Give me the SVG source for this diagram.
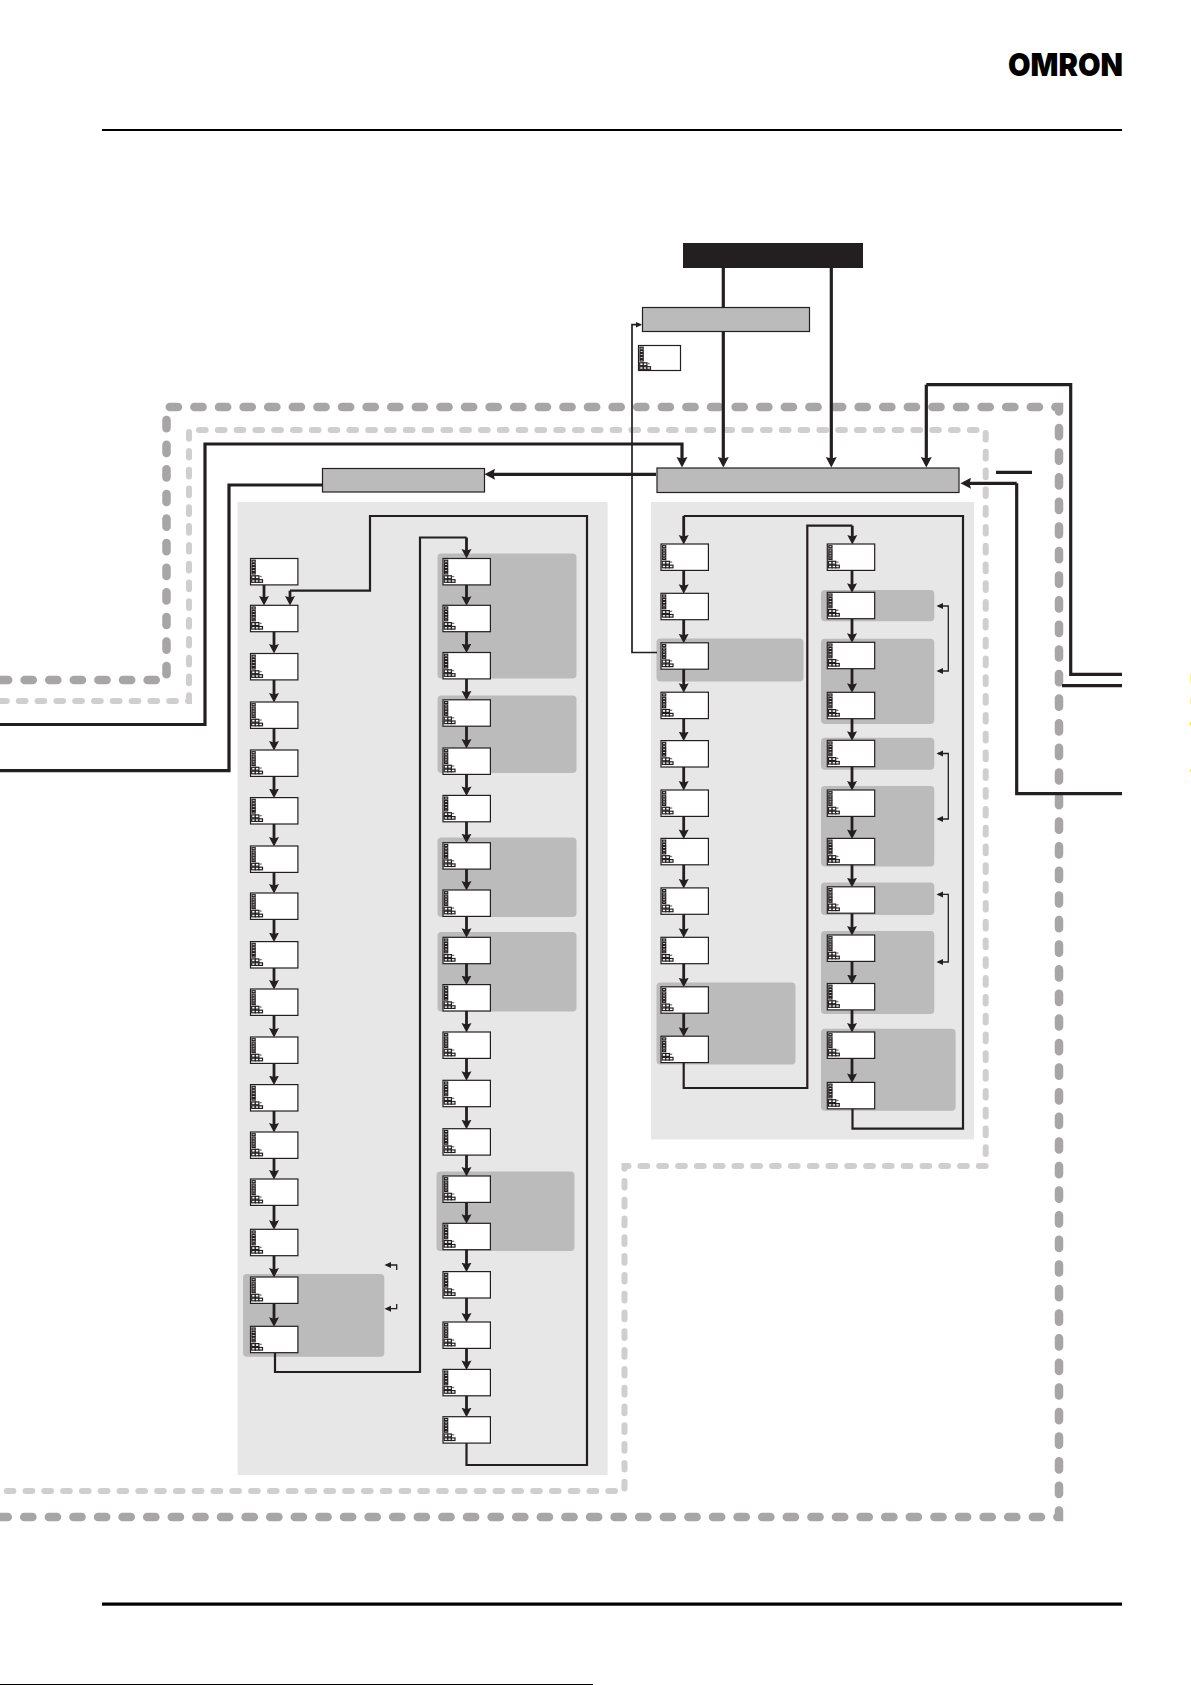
<svg xmlns="http://www.w3.org/2000/svg" width="1191" height="1685" viewBox="0 0 1191 1685">
<style>
.bg{fill:#fff}
.panel{fill:#e7e7e7}
.sub{fill:#bcbbbb}
.box{fill:#fff;stroke:#231f20;stroke-width:1.2}
.bar{fill:#bcbbbb;stroke:#231f20;stroke-width:1.2}
.ic{fill:#fff;stroke:#231f20;stroke-width:1.2}
.o{fill:none;stroke:#a7a5a6;stroke-width:8.5;stroke-linecap:round;stroke-dasharray:8.2 16.4}
.i{fill:none;stroke:#d0cecf;stroke-width:6;stroke-linecap:round;stroke-dasharray:6.7 12.1}
.c{fill:none;stroke:#231f20;stroke-width:2.8;marker-end:url(#a)}
.l{fill:none;stroke:#231f20;stroke-width:2.2}
.t{fill:none;stroke:#231f20;stroke-width:1.3;marker-end:url(#s)}
.f{fill:none;stroke:#231f20;stroke-width:1.7;marker-end:url(#s)}
.m{fill:none;stroke:#231f20;stroke-width:3.2;marker-end:url(#b)}
.k{fill:none;stroke:#231f20;stroke-width:3.2}
</style>
<defs>
<marker id="a" markerUnits="userSpaceOnUse" markerWidth="13" markerHeight="13" refX="6" refY="5.5" orient="auto"><path d="M0 0.5L9.5 5.5L0 10.5L1.5 5.5Z" fill="#231f20"/></marker>
<marker id="b" markerUnits="userSpaceOnUse" markerWidth="13" markerHeight="13" refX="7" refY="6" orient="auto"><path d="M0 .5L10.5 6L0 11.5L1.5 6Z" fill="#231f20"/></marker>
<marker id="s" markerUnits="userSpaceOnUse" markerWidth="9" markerHeight="9" refX="5" refY="3.5" orient="auto"><path d="M0 .5L6.5 3.5L0 6.5Z" fill="#231f20"/></marker>
<g id="icon">
<rect class="ic" x="1.5" y="1.7" width="3.2" height="2"/><rect class="ic" x="1.5" y="5.1" width="3.2" height="2"/><rect class="ic" x="1.5" y="8.1" width="3.2" height="2"/><rect class="ic" x="1.5" y="10.9" width="3.2" height="2"/><rect class="ic" x="1.5" y="13.9" width="3.2" height="1.6"/>
<rect class="ic" x="1.2" y="17.3" width="3.6" height="2.9"/><rect class="ic" x="4.8" y="17.3" width="3.6" height="2.9"/><rect x="8.8" y="17.4" width="2.4" height="1.3" fill="#777"/>
<rect class="ic" x="1.2" y="21.2" width="3.6" height="2.6"/><rect class="ic" x="4.8" y="21.2" width="3.6" height="2.6"/><rect class="ic" x="8.4" y="21.2" width="3.6" height="2.6"/>
</g>
<g id="d"><rect class="box" x="0" y="0" width="47.4" height="26.4"/><use href="#icon"/></g>
</defs>
<rect class="bg" width="1191" height="1685"/>
<g id="page">
<rect x="102" y="129" width="1020" height="2" fill="#000"/>
<rect x="102" y="1602.5" width="1020" height="3.2" fill="#000"/>
<rect x="0" y="1684" width="593" height="1" fill="#000"/>
<text x="1008" y="76.3" font-family="Inter, Liberation Sans, sans-serif" font-weight="900" font-size="32" textLength="115" lengthAdjust="spacingAndGlyphs" fill="#000">OMRON</text>
<rect x="1190" y="674" width="1" height="9" fill="#fdf28a"/><rect x="1190" y="698" width="1" height="6" fill="#fdf28a"/><rect x="1190" y="722" width="1" height="3" fill="#ffee00"/><rect x="1190" y="769" width="1" height="3" fill="#ffee00"/>
</g>
<g id="regions">
<path class="o" d="M0 680H166.5V407H1059V1517H0"/>
<path class="i" d="M0 701H189V430H985.7V1166H624.5V1491H0"/>
<rect class="panel" x="237.6" y="502" width="370" height="973"/>
<rect class="panel" x="651" y="502" width="323" height="637.5"/>
<rect class="sub" x="243" y="1274" width="141.3" height="82.7" rx="4"/>
<rect class="sub" x="437.5" y="553.5" width="139" height="125" rx="4"/>
<rect class="sub" x="437.5" y="695.5" width="139" height="77.5" rx="4"/>
<rect class="sub" x="437.5" y="837.5" width="139" height="79.5" rx="4"/>
<rect class="sub" x="437.5" y="932" width="139" height="79.5" rx="4"/>
<rect class="sub" x="436.5" y="1171.5" width="138" height="79.5" rx="4"/>
<rect class="sub" x="656.5" y="638.5" width="147" height="43" rx="4"/>
<rect class="sub" x="656.5" y="982.5" width="139" height="82" rx="4"/>
<rect class="sub" x="821" y="590" width="113.3" height="31.3" rx="4"/>
<rect class="sub" x="821" y="638.7" width="113.3" height="85.3" rx="4"/>
<rect class="sub" x="821" y="737.7" width="113.3" height="32" rx="4"/>
<rect class="sub" x="821" y="786" width="113.3" height="80.5" rx="4"/>
<rect class="sub" x="821" y="882.5" width="113.3" height="32.5" rx="4"/>
<rect class="sub" x="821" y="931" width="113.3" height="83" rx="4"/>
<rect class="sub" x="821" y="1028.7" width="134.6" height="82" rx="4"/>
</g>
<g id="connectors">
<path class="k" d="M723.3 268V307"/>
<path class="m" d="M723.3 332V464"/>
<path class="m" d="M831.3 268V464"/>
<path class="k" d="M1122 674.3H1070.7V384.7H926.3"/>
<path class="m" d="M926.3 384.7V464"/>
<path class="k" d="M1122 685.7H1062"/>
<path class="k" d="M1122 793.7H1016.7V483.3"/>
<path class="m" d="M1016.7 483.3H964"/>
<path class="k" d="M996 472.3H1032"/>
<path class="m" d="M0 724.5H205V444H682V464"/>
<path class="m" d="M656 474.3H488"/>
<path class="k" d="M322 485H229V770.7H0"/>
<path class="f" d="M657 652.5H632V324.7H640.5"/>
<path class="t" d="M396.7 1270V1265H386"/>
<path class="t" d="M396.7 1304V1308.7H386"/>
<path class="t" d="M948.3 640V606H938"/><path class="t" d="M948.3 640V671H938"/>
<path class="t" d="M948.3 786V753.5H938"/><path class="t" d="M948.3 786V819H938"/>
<path class="t" d="M948.3 928V894.4H938"/><path class="t" d="M948.3 928V962H938"/>
<path class="l" d="M275 1353V1372H420V537.5H466.5"/>
<path class="c" d="M466.5 537.5V555"/>
<path class="l" d="M466.5 1443V1465H587V516H370V590.7H290"/>
<path class="c" d="M290 590.7V602"/>
<path class="l" d="M683.7 516H963V1128.7H852.5V1108"/>
<path class="c" d="M683.7 516V541"/>
<path class="l" d="M683.7 1062V1088H807.3V525.7H852.3"/>
<path class="c" d="M852.3 525.7V541"/>
<g id="col1-links">
<path class="c" d="M264 585V602"/>
<path class="c" d="M274 632V650"/><path class="c" d="M274 680V699"/><path class="c" d="M274 728V747"/><path class="c" d="M274 776V794.6"/><path class="c" d="M274 824V843"/><path class="c" d="M274 872V890"/><path class="c" d="M274 919V938.6"/><path class="c" d="M274 968V986"/><path class="c" d="M274 1015V1034"/><path class="c" d="M274 1063V1081.6"/><path class="c" d="M274 1111V1129"/><path class="c" d="M274 1158V1176"/><path class="c" d="M274 1205V1226.3"/><path class="c" d="M274 1256V1274"/><path class="c" d="M274 1303V1323.3"/>
</g>
<g id="col2-links">
<path class="c" d="M466.5 585V602.3"/><path class="c" d="M466.5 632V649.5"/><path class="c" d="M466.5 679V696.8"/><path class="c" d="M466.5 726V745"/><path class="c" d="M466.5 774V792.4"/><path class="c" d="M466.5 822V839.7"/><path class="c" d="M466.5 869V887"/><path class="c" d="M466.5 916V934.3"/><path class="c" d="M466.5 964V981.6"/><path class="c" d="M466.5 1011V1029"/><path class="c" d="M466.5 1058V1077.3"/><path class="c" d="M466.5 1107V1125.7"/><path class="c" d="M466.5 1155V1173"/><path class="c" d="M466.5 1202V1220.3"/><path class="c" d="M466.5 1250V1268.6"/><path class="c" d="M466.5 1298V1319"/><path class="c" d="M466.5 1348V1366.4"/><path class="c" d="M466.5 1396V1413.7"/>
</g>
<g id="col3-links">
<path class="c" d="M683.7 570V590.3"/><path class="c" d="M683.7 620V639.8"/><path class="c" d="M683.7 669V689.2"/><path class="c" d="M683.7 719V737.6"/><path class="c" d="M683.7 767V787"/><path class="c" d="M683.7 816V835.4"/><path class="c" d="M683.7 865V884.9"/><path class="c" d="M683.7 914V934.3"/><path class="c" d="M683.7 964V983.8"/><path class="c" d="M683.7 1013V1033.2"/>
</g>
<g id="col4-links">
<path class="c" d="M852 570V589.3"/><path class="c" d="M852 619V639.3"/><path class="c" d="M852 669V689.3"/><path class="c" d="M852 718V737.3"/><path class="c" d="M852 767V787"/><path class="c" d="M852 816V835.4"/><path class="c" d="M852 865V883.8"/><path class="c" d="M852 913V932"/><path class="c" d="M852 961V980.5"/><path class="c" d="M852 1010V1029"/><path class="c" d="M852 1058V1079.4"/>
</g>
</g>
<g id="top"><rect x="683" y="243" width="180" height="25" fill="#231f20"/></g>
<g id="bar-upper"><rect class="bar" x="642.5" y="307.5" width="167" height="24"/></g>
<g id="bar-main"><rect class="bar" x="657" y="468" width="302" height="24.5"/></g>
<g id="bar-left"><rect class="bar" x="322.5" y="468.5" width="162" height="23.5"/></g>
<g id="key"><rect class="box" x="638.5" y="345.5" width="42" height="25"/><use href="#icon" x="638.5" y="345.5"/></g>
<g id="col1">
<use id="a1" href="#d" x="250.5" y="558.5"/><use id="a2" href="#d" x="250.5" y="605.3"/><use id="a3" href="#d" x="250.5" y="653.5"/><use id="a4" href="#d" x="250.5" y="702"/><use id="a5" href="#d" x="250.5" y="750"/><use id="a6" href="#d" x="250.5" y="797.6"/><use id="a7" href="#d" x="250.5" y="846"/><use id="a8" href="#d" x="250.5" y="893"/><use id="a9" href="#d" x="250.5" y="941.6"/><use id="a10" href="#d" x="250.5" y="989"/><use id="a11" href="#d" x="250.5" y="1037"/><use id="a12" href="#d" x="250.5" y="1084.6"/><use id="a13" href="#d" x="250.5" y="1132"/><use id="a14" href="#d" x="250.5" y="1179"/><use id="a15" href="#d" x="250.5" y="1229.3"/><use id="a16" href="#d" x="250.5" y="1277"/><use id="a17" href="#d" x="250.5" y="1326.3"/>
</g>
<g id="col2">
<use id="b1" href="#d" x="443" y="558.5"/><use id="b2" href="#d" x="443" y="605.3"/><use id="b3" href="#d" x="443" y="652.5"/><use id="b4" href="#d" x="443" y="699.8"/><use id="b5" href="#d" x="443" y="748"/><use id="b6" href="#d" x="443" y="795.4"/><use id="b7" href="#d" x="443" y="842.7"/><use id="b8" href="#d" x="443" y="890"/><use id="b9" href="#d" x="443" y="937.3"/><use id="b10" href="#d" x="443" y="984.6"/><use id="b11" href="#d" x="443" y="1032"/><use id="b12" href="#d" x="443" y="1080.3"/><use id="b13" href="#d" x="443" y="1128.7"/><use id="b14" href="#d" x="443" y="1176"/><use id="b15" href="#d" x="443" y="1223.3"/><use id="b16" href="#d" x="443" y="1271.6"/><use id="b17" href="#d" x="443" y="1322"/><use id="b18" href="#d" x="443" y="1369.4"/><use id="b19" href="#d" x="443" y="1416.7"/>
</g>
<g id="col3">
<use id="c1" href="#d" x="661" y="544"/><use id="c2" href="#d" x="661" y="593.3"/><use id="c3" href="#d" x="661" y="642.8"/><use id="c4" href="#d" x="661" y="692.2"/><use id="c5" href="#d" x="661" y="740.6"/><use id="c6" href="#d" x="661" y="790"/><use id="c7" href="#d" x="661" y="838.4"/><use id="c8" href="#d" x="661" y="887.9"/><use id="c9" href="#d" x="661" y="937.3"/><use id="c10" href="#d" x="661" y="986.8"/><use id="c11" href="#d" x="661" y="1036.2"/>
</g>
<g id="col4">
<use id="d1" href="#d" x="827.3" y="544"/><use id="d2" href="#d" x="827.3" y="592.3"/><use id="d3" href="#d" x="827.3" y="642.3"/><use id="d4" href="#d" x="827.3" y="692.3"/><use id="d5" href="#d" x="827.3" y="740.3"/><use id="d6" href="#d" x="827.3" y="790"/><use id="d7" href="#d" x="827.3" y="838.4"/><use id="d8" href="#d" x="827.3" y="886.8"/><use id="d9" href="#d" x="827.3" y="935"/><use id="d10" href="#d" x="827.3" y="983.5"/><use id="d11" href="#d" x="827.3" y="1032"/><use id="d12" href="#d" x="827.3" y="1082.4"/>
</g>
</svg>
